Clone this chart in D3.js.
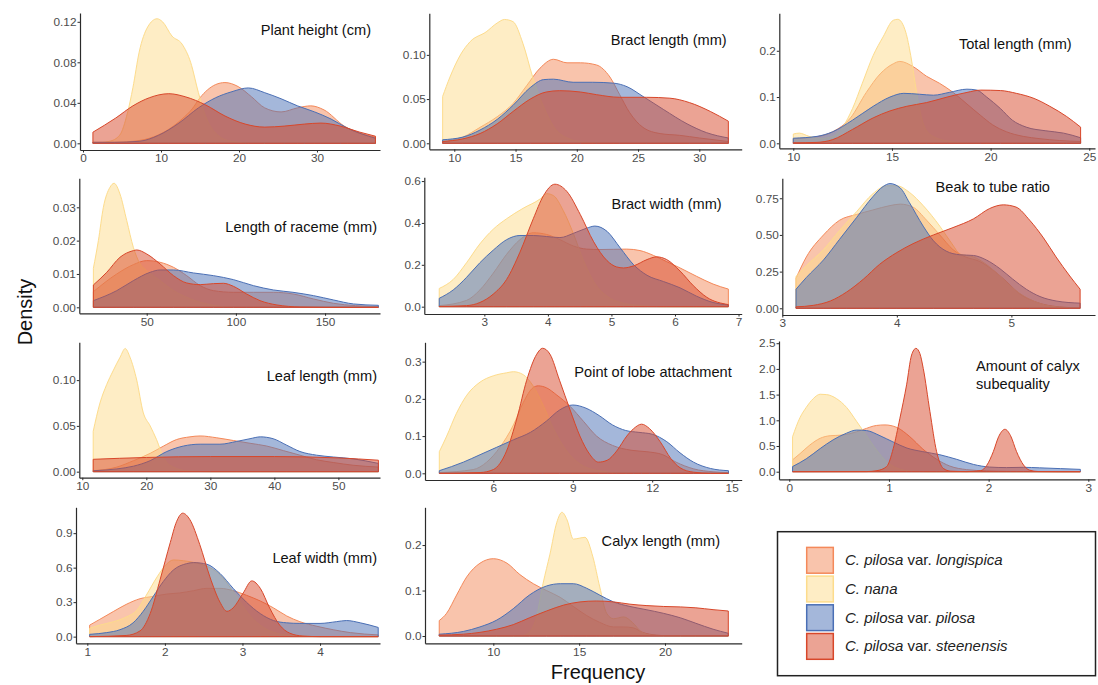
<!DOCTYPE html>
<html>
<head>
<meta charset="utf-8">
<script src="https://cdn.jsdelivr.net/npm/d3@7"></script>
<style>
  body { margin: 0; background: #fff; }
  text { font-family: "Liberation Sans", Arial, Helvetica, sans-serif; }
</style>
</head>
<body>
<svg id="chart" width="1098" height="685"></svg>
<script>
// ---- taxa, drawing order follows legend order ----
const taxa = ["longispica", "nana", "pilosa", "steenensis"];
const taxaColors = ["#f4895a", "#fddc8c", "#4a6fb5", "#d8472a"];
const legendLabels = [
  ["C. pilosa", " var. ", "longispica"],
  ["C. nana", "", ""],
  ["C. pilosa", " var. ", "pilosa"],
  ["C. pilosa", " var. ", "steenensis"]
];

// ---- density estimates, [value, density] ----
const plantHeightLongispica = [[1.27,0.001],[4,0.001],[6.4,0.002],[8.5,0.005],[10.6,0.012],[12.7,0.024],[14,0.034],[15,0.045],[16,0.053],[17,0.058],[18.2,0.060],[19.9,0.056],[21.6,0.046],[23.3,0.035],[25.4,0.031],[27.5,0.035],[29.2,0.037],[30.9,0.033],[33.5,0.017],[35.5,0.010],[37.5,0.006]];
const plantHeightNana = [[1.27,0],[3.4,0.002],[4.7,0.008],[5.7,0.03],[6.4,0.055],[7.2,0.09],[8.3,0.115],[9.5,0.123],[10.2,0.12],[11.4,0.106],[12.7,0.098],[13.8,0.08],[14.8,0.05],[15.7,0.027],[17,0.01],[19,0.002],[22,0],[37.5,0]];
const plantHeightPilosa = [[1.27,0.001],[4,0.001],[7.2,0.002],[9.7,0.008],[12.3,0.02],[14.8,0.035],[17,0.045],[19.1,0.051],[21.2,0.0547],[23.3,0.050],[25.4,0.044],[27.5,0.037],[29.7,0.031],[31.8,0.024],[33.9,0.015],[37.5,0.005]];
const plantHeightSteenensis = [[1.27,0.011],[4.2,0.025],[6.4,0.037],[8.5,0.045],[11,0.049],[13.1,0.046],[15.7,0.038],[18.2,0.027],[20.8,0.019],[23.3,0.016],[25.8,0.017],[28.4,0.019],[30.5,0.020],[33,0.017],[35.5,0.011],[37.5,0.007]];

const bractLengthLongispica = [[9.05,0.002],[10.7,0.007],[12.1,0.018],[13.5,0.03],[14.8,0.045],[15.9,0.065],[17,0.085],[18.1,0.095],[19.2,0.091],[20.3,0.091],[21.6,0.0886],[22.7,0.075],[23.5,0.055],[24.3,0.035],[25.4,0.018],[26.8,0.011],[28.4,0.009],[30,0.006],[32.37,0.002]];
const bractLengthNana = [[9.05,0.053],[9.65,0.075],[10.5,0.10],[11.3,0.115],[12.6,0.126],[13.5,0.136],[14.1,0.140],[14.8,0.1375],[15.6,0.113],[16.4,0.075],[17.3,0.041],[18.1,0.019],[19.2,0.006],[20.8,0.001],[23,0],[32.37,0]];
const bractLengthPilosa = [[9.05,0.004],[10.7,0.007],[12.1,0.015],[13.5,0.027],[14.8,0.043],[16.2,0.063],[17.3,0.072],[18.1,0.0725],[19.7,0.069],[21.3,0.069],[23,0.068],[24.1,0.064],[25.4,0.053],[27.1,0.038],[29,0.022],[30.6,0.012],[32.37,0.006]];
const bractLengthSteenensis = [[9.05,0.002],[10.7,0.005],[12.1,0.011],[13.5,0.022],[14.8,0.036],[16.2,0.050],[17.5,0.058],[18.6,0.0595],[20.3,0.058],[21.6,0.055],[23.5,0.052],[25.7,0.052],[27.6,0.051],[29.2,0.046],[30.9,0.036],[32.37,0.025]];

const totalLengthLongispica = [[10,0.01],[11,0.013],[12,0.025],[12.9,0.055],[13.7,0.11],[14.4,0.15],[15.07,0.172],[15.4,0.177],[16.1,0.165],[16.75,0.145],[17.4,0.13],[18.1,0.11],[18.8,0.085],[19.5,0.06],[20.1,0.04],[20.8,0.025],[21.65,0.015],[22.5,0.01],[23.5,0.006],[24.56,0.004]];
const totalLengthNana = [[10,0.02],[10.3,0.022],[10.8,0.015],[11.35,0.01],[12,0.015],[12.5,0.035],[13,0.075],[13.5,0.13],[14.05,0.19],[14.55,0.23],[15.07,0.266],[15.3,0.268],[15.7,0.24],[15.95,0.19],[16.25,0.11],[16.5,0.055],[16.9,0.02],[17.8,0.005],[19,0],[24.56,0]];
const totalLengthPilosa = [[10,0.011],[11.2,0.015],[12,0.025],[13,0.05],[14.05,0.08],[14.9,0.1],[15.6,0.108],[16.4,0.106],[17.1,0.104],[17.9,0.11],[18.8,0.117],[19.3,0.115],[19.8,0.10],[20.5,0.075],[21.1,0.05],[21.8,0.035],[22.8,0.027],[23.7,0.022],[24.56,0.012]];
const totalLengthSteenensis = [[10,0.001],[11.2,0.002],[12,0.008],[13,0.03],[14.05,0.055],[14.9,0.07],[15.75,0.08],[16.75,0.088],[17.8,0.1],[18.8,0.11],[19.5,0.115],[20.5,0.114],[21.3,0.108],[22.2,0.097],[23,0.08],[23.85,0.058],[24.56,0.035]];

const racemeLongispica = [[20.1,0.0047],[33.2,0.010],[42.5,0.0128],[50,0.014],[57.5,0.0135],[65,0.012],[72.4,0.0095],[80,0.0065],[87.4,0.005],[98.6,0.0045],[109.8,0.0045],[121,0.0045],[132,0.004],[143.5,0.0025],[154.7,0.0012],[167,0.0005],[179.9,0.0002]];
const racemeNana = [[20.1,0.0117],[22.9,0.02],[25.7,0.03],[29.4,0.036],[31.7,0.0372],[35,0.034],[38.8,0.026],[42.5,0.018],[46.3,0.013],[50,0.011],[57.5,0.008],[65,0.005],[72.4,0.003],[83.6,0.001],[100,0],[179.9,0]];
const racemePilosa = [[20.1,0.002],[33.2,0.005],[42.5,0.008],[51.9,0.0105],[57.5,0.0112],[65,0.0112],[76.2,0.0103],[87.4,0.0095],[98.6,0.0083],[109.8,0.0065],[121,0.0052],[132,0.0045],[143.5,0.0035],[154.7,0.0022],[166,0.001],[179.9,0.0006]];
const racemeSteenensis = [[20.1,0.0067],[27.6,0.0105],[35,0.015],[42.5,0.017],[44.4,0.0172],[50,0.016],[57.5,0.013],[65,0.0095],[72.4,0.0073],[80,0.0068],[87.4,0.0071],[93,0.0072],[98.6,0.0063],[106,0.004],[113.5,0.002],[123,0.0007],[136,0.0001],[150,0],[179.9,0]];

const bractWidthLongispica = [[2.29,0.005],[2.72,0.03],[2.93,0.08],[3.14,0.16],[3.35,0.25],[3.56,0.32],[3.77,0.353],[3.98,0.345],[4.19,0.32],[4.4,0.29],[4.61,0.275],[4.82,0.273],[5.03,0.274],[5.24,0.275],[5.45,0.268],[5.66,0.245],[5.87,0.215],[6.08,0.185],[6.34,0.145],[6.6,0.108],[6.84,0.084]];
const bractWidthNana = [[2.29,0.087],[2.51,0.13],[2.72,0.21],[2.93,0.30],[3.14,0.37],[3.35,0.42],[3.61,0.47],[3.88,0.515],[3.98,0.54],[4.09,0.53],[4.24,0.46],[4.4,0.35],[4.56,0.22],[4.72,0.12],[4.93,0.05],[5.14,0.02],[5.45,0.005],[5.8,0],[6.84,0]];
const bractWidthPilosa = [[2.29,0.04],[2.51,0.08],[2.72,0.14],[2.93,0.21],[3.14,0.27],[3.35,0.32],[3.56,0.34],[3.77,0.34],[3.98,0.335],[4.19,0.33],[4.4,0.35],[4.61,0.375],[4.74,0.385],[4.93,0.36],[5.14,0.28],[5.35,0.2],[5.56,0.15],[5.82,0.12],[6.08,0.09],[6.34,0.05],[6.6,0.02],[6.84,0.008]];
const bractWidthSteenensis = [[2.29,0.001],[2.72,0.005],[2.93,0.02],[3.14,0.06],[3.35,0.13],[3.56,0.26],[3.77,0.42],[3.93,0.53],[4.11,0.585],[4.3,0.55],[4.51,0.44],[4.72,0.31],[4.93,0.22],[5.08,0.19],[5.19,0.185],[5.35,0.195],[5.56,0.225],[5.71,0.238],[5.87,0.225],[6.08,0.17],[6.29,0.1],[6.5,0.045],[6.84,0.01]];

const beakRatioLongispica = [[3.12,0.205],[3.21,0.35],[3.36,0.5],[3.5,0.6],[3.65,0.64],[3.79,0.67],[3.94,0.7],[4.03,0.71],[4.14,0.69],[4.26,0.6],[4.375,0.5],[4.49,0.4],[4.6,0.35],[4.72,0.32],[4.84,0.26],[4.96,0.18],[5.07,0.1],[5.19,0.05],[5.36,0.015],[5.6,0.002]];
const beakRatioNana = [[3.12,0.216],[3.21,0.29],[3.36,0.4],[3.5,0.53],[3.65,0.66],[3.79,0.78],[3.91,0.835],[4.0,0.835],[4.11,0.79],[4.23,0.7],[4.375,0.56],[4.49,0.43],[4.55,0.37],[4.67,0.35],[4.78,0.3],[4.9,0.22],[5.04,0.12],[5.19,0.05],[5.39,0.01],[5.6,0.001]];
const beakRatioPilosa = [[3.12,0.13],[3.21,0.21],[3.36,0.33],[3.5,0.47],[3.65,0.62],[3.79,0.76],[3.88,0.83],[3.94,0.85],[4.03,0.82],[4.11,0.72],[4.23,0.56],[4.32,0.46],[4.43,0.39],[4.55,0.365],[4.67,0.36],[4.78,0.33],[4.9,0.27],[5.01,0.2],[5.13,0.13],[5.25,0.08],[5.39,0.05],[5.6,0.035]];
const beakRatioSteenensis = [[3.12,0.01],[3.27,0.02],[3.42,0.05],[3.56,0.11],[3.71,0.2],[3.85,0.3],[4.0,0.38],[4.14,0.44],[4.32,0.5],[4.49,0.55],[4.67,0.61],[4.81,0.68],[4.93,0.705],[5.04,0.69],[5.16,0.6],[5.28,0.48],[5.39,0.35],[5.51,0.22],[5.6,0.13]];

const leafLengthLongispica = [[11.7,0.001],[15.4,0.005],[18,0.012],[20.6,0.02],[22.7,0.028],[24.7,0.035],[26.8,0.038],[28.4,0.039],[31,0.037],[33.6,0.034],[36.2,0.031],[38.8,0.028],[41.4,0.023],[44,0.018],[46.6,0.013],[49.2,0.01],[52.3,0.007],[56.25,0.005]];
const leafLengthNana = [[11.7,0.044],[12.76,0.075],[13.8,0.095],[14.8,0.11],[15.9,0.125],[16.7,0.1345],[17.45,0.125],[18.5,0.1],[19.5,0.065],[20.6,0.05],[21.6,0.035],[22.7,0.015],[24.2,0.005],[26.3,0.001],[30,0],[56.25,0]];
const leafLengthPilosa = [[11.7,0.001],[15.4,0.003],[18,0.006],[20.6,0.012],[23.2,0.022],[25.8,0.028],[28.4,0.030],[31.5,0.030],[34.1,0.033],[36.2,0.036],[37.8,0.038],[39.8,0.036],[41.9,0.029],[44,0.022],[46.6,0.018],[49.2,0.016],[52.3,0.014],[56.25,0.009]];
const leafLengthSteenensis = [[11.7,0.0135],[20,0.0155],[30,0.0165],[40,0.0165],[50,0.015],[56.25,0.0125]];

const lobeLongispica = [[3.96,0.002],[5.24,0.01],[5.75,0.03],[6.25,0.07],[6.76,0.13],[7.13,0.19],[7.5,0.23],[7.7,0.235],[8.0,0.23],[8.4,0.21],[8.9,0.18],[9.4,0.14],[9.9,0.1],[10.5,0.075],[11.2,0.062],[11.8,0.058],[12.4,0.05],[12.9,0.03],[13.56,0.012],[14.3,0.004],[14.88,0.002]];
const lobeNana = [[3.96,0.058],[4.24,0.1],[4.6,0.16],[5.0,0.21],[5.5,0.245],[6.0,0.262],[6.5,0.27],[6.76,0.273],[7.13,0.265],[7.5,0.235],[7.9,0.18],[8.27,0.12],[8.77,0.06],[9.27,0.025],[9.9,0.008],[10.8,0.001],[12,0],[14.88,0]];
const lobePilosa = [[3.96,0.007],[4.87,0.03],[5.5,0.05],[6.13,0.07],[6.76,0.09],[7.4,0.11],[8.0,0.14],[8.5,0.17],[9.0,0.1835],[9.5,0.175],[10.0,0.155],[10.5,0.13],[11.0,0.115],[11.5,0.11],[12.0,0.105],[12.55,0.085],[13.05,0.055],[13.56,0.03],[14.2,0.013],[14.88,0.007]];
const lobeSteenensis = [[3.96,0],[5.5,0.002],[6.0,0.01],[6.5,0.06],[6.9,0.15],[7.26,0.25],[7.64,0.32],[7.86,0.336],[8.14,0.32],[8.5,0.25],[8.9,0.17],[9.27,0.1],[9.65,0.05],[9.97,0.03],[10.3,0.035],[10.66,0.06],[11.04,0.1],[11.3,0.12],[11.6,0.132],[11.9,0.12],[12.3,0.085],[12.7,0.04],[13.05,0.015],[13.56,0.003],[14.2,0],[14.88,0]];

const subequalityLongispica = [[0.033,0.23],[0.107,0.35],[0.207,0.52],[0.31,0.65],[0.41,0.7],[0.51,0.71],[0.61,0.74],[0.74,0.82],[0.876,0.9],[0.96,0.91],[1.08,0.86],[1.21,0.68],[1.34,0.44],[1.48,0.24],[1.61,0.11],[1.78,0.04],[1.98,0.015],[2.18,0.006],[2.5,0.002],[2.92,0.001]];
const subequalityNana = [[0.033,0.68],[0.107,1.05],[0.17,1.25],[0.24,1.42],[0.31,1.507],[0.375,1.5],[0.475,1.42],[0.575,1.25],[0.675,0.98],[0.776,0.7],[0.876,0.42],[0.976,0.2],[1.08,0.07],[1.21,0.015],[1.4,0],[2.92,0]];
const subequalityPilosa = [[0.033,0.1],[0.17,0.25],[0.31,0.45],[0.44,0.62],[0.575,0.75],[0.675,0.81],[0.776,0.8],[0.91,0.7],[1.04,0.58],[1.18,0.46],[1.34,0.39],[1.51,0.33],[1.68,0.24],[1.85,0.14],[2.01,0.09],[2.18,0.08],[2.35,0.085],[2.51,0.075],[2.72,0.06],[2.92,0.045]];
const subequalitySteenensis = [[0.033,0],[0.776,0.002],[0.88,0.02],[0.977,0.1],[1.043,0.45],[1.11,1.04],[1.177,1.69],[1.227,2.27],[1.271,2.40],[1.31,2.3],[1.344,2.01],[1.411,1.17],[1.478,0.39],[1.545,0.065],[1.62,0.01],[1.78,0.002],[1.92,0.02],[1.98,0.12],[2.047,0.39],[2.1,0.68],[2.164,0.825],[2.22,0.7],[2.28,0.39],[2.35,0.13],[2.41,0.03],[2.5,0.003],[2.7,0],[2.92,0]];

const leafWidthLongispica = [[1.03,0.1],[1.16,0.15],[1.34,0.22],[1.5,0.28],[1.68,0.33],[1.85,0.35],[2.02,0.37],[2.19,0.38],[2.37,0.40],[2.54,0.42],[2.71,0.42],[2.88,0.4],[3.05,0.36],[3.23,0.31],[3.4,0.25],[3.57,0.18],[3.74,0.13],[3.96,0.09],[4.17,0.06],[4.39,0.035],[4.75,0.015]];
const leafWidthNana = [[1.03,0.073],[1.16,0.1],[1.34,0.13],[1.5,0.17],[1.64,0.23],[1.76,0.36],[1.9,0.52],[2.02,0.63],[2.11,0.667],[2.24,0.66],[2.41,0.64],[2.58,0.6],[2.71,0.54],[2.84,0.43],[2.97,0.3],[3.1,0.18],[3.27,0.08],[3.44,0.03],[3.66,0.008],[3.96,0.001],[4.3,0],[4.75,0]];
const leafWidthPilosa = [[1.03,0.02],[1.25,0.035],[1.42,0.06],[1.59,0.12],[1.72,0.22],[1.85,0.35],[1.98,0.48],[2.11,0.58],[2.28,0.635],[2.37,0.644],[2.54,0.63],[2.71,0.55],[2.88,0.42],[3.05,0.3],[3.23,0.2],[3.4,0.14],[3.57,0.12],[3.74,0.115],[4.0,0.115],[4.21,0.13],[4.34,0.14],[4.52,0.12],[4.75,0.08]];
const leafWidthSteenensis = [[1.03,0],[1.5,0.01],[1.68,0.05],[1.81,0.2],[1.94,0.5],[2.07,0.82],[2.15,1.0],[2.23,1.074],[2.32,1.02],[2.45,0.8],[2.58,0.52],[2.71,0.3],[2.8,0.22],[2.88,0.25],[3.01,0.38],[3.12,0.485],[3.23,0.42],[3.35,0.25],[3.48,0.1],[3.61,0.03],[3.78,0.005],[4.0,0],[4.75,0]];

const calyxLengthLongispica = [[6.85,0.034],[7.28,0.05],[7.86,0.09],[8.45,0.13],[9.22,0.16],[10.0,0.17],[10.8,0.16],[11.55,0.135],[12.33,0.115],[13.1,0.1],[13.9,0.085],[14.66,0.065],[15.44,0.045],[16.2,0.03],[17.0,0.02],[17.57,0.02],[18.15,0.018],[18.7,0.008],[19.5,0.002],[20.5,0],[23.69,0]];
const calyxLengthNana = [[6.85,0],[11.5,0],[12.0,0.005],[12.5,0.04],[12.9,0.116],[13.3,0.18],[13.7,0.25],[14.0,0.272],[14.3,0.255],[14.66,0.213],[15.0,0.215],[15.34,0.217],[15.8,0.174],[16.2,0.108],[16.6,0.05],[17.0,0.038],[17.6,0.042],[18.1,0.03],[18.6,0.01],[19.2,0.002],[20,0],[23.69,0]];
const calyxLengthPilosa = [[6.85,0.004],[8.25,0.01],[9.22,0.02],[10.2,0.035],[11.16,0.06],[12.1,0.09],[13.1,0.11],[13.9,0.115],[14.66,0.115],[15.44,0.105],[16.2,0.09],[17,0.075],[17.96,0.065],[18.9,0.058],[19.9,0.05],[20.9,0.04],[21.8,0.028],[22.8,0.015],[23.69,0.006]];
const calyxLengthSteenensis = [[6.85,0.002],[8.25,0.004],[9.22,0.008],[10.2,0.015],[11.16,0.025],[12.1,0.04],[13.1,0.055],[14.1,0.068],[15.05,0.075],[16.0,0.077],[17,0.075],[17.96,0.07],[18.9,0.067],[19.9,0.065],[20.9,0.064],[21.8,0.062],[22.8,0.058],[23.69,0.055]];

// ---- tick values per panel ----
const plantHeightTicks = { x: [0, 10, 20, 30], y: [0, 0.04, 0.08, 0.12] };
const bractLengthTicks = { x: [10, 15, 20, 25, 30], y: [0, 0.05, 0.10] };
const totalLengthTicks = { x: [10, 15, 20, 25], y: [0, 0.1, 0.2] };
const racemeTicks = { x: [50, 100, 150], y: [0, 0.01, 0.02, 0.03] };
const bractWidthTicks = { x: [3, 4, 5, 6, 7], y: [0, 0.2, 0.4, 0.6] };
const beakRatioTicks = { x: [3, 4, 5], y: [0, 0.25, 0.5, 0.75] };
const leafLengthTicks = { x: [10, 20, 30, 40, 50], y: [0, 0.05, 0.10] };
const lobeTicks = { x: [6, 9, 12, 15], y: [0, 0.1, 0.2, 0.3] };
const subequalityTicks = { x: [0, 1, 2, 3], y: [0, 0.5, 1.0, 1.5, 2.0, 2.5] };
const leafWidthTicks = { x: [1, 2, 3, 4], y: [0, 0.3, 0.6, 0.9] };
const calyxLengthTicks = { x: [10, 15, 20], y: [0, 0.1, 0.2] };

// ---- panel table: frame = [left, right, top, bottom] in px ----
const panels = [
  { title: ["Plant height (cm)"], titlePos: [371, 35, "end"], frame: [80, 380, 13, 150],
    xDomain: [-0.385, 38.08], yDomain: [-0.0066, 0.1287], ticks: plantHeightTicks, yFormat: ".2f",
    series: [plantHeightLongispica, plantHeightNana, plantHeightPilosa, plantHeightSteenensis] },
  { title: ["Bract length (mm)"], titlePos: [726.7, 45, "end"], frame: [429.3, 741.7, 13.3, 149.3],
    xDomain: [7.96, 33.46], yDomain: [-0.0068, 0.147], ticks: bractLengthTicks, yFormat: ".2f",
    series: [bractLengthLongispica, bractLengthNana, bractLengthPilosa, bractLengthSteenensis] },
  { title: ["Total length (mm)"], titlePos: [1071.7, 49, "end"], frame: [779.3, 1095, 13.3, 148.3],
    xDomain: [9.29, 25.29], yDomain: [-0.0108, 0.281], ticks: totalLengthTicks, yFormat: ".1f",
    series: [totalLengthLongispica, totalLengthNana, totalLengthPilosa, totalLengthSteenensis] },
  { title: ["Length of raceme (mm)"], titlePos: [377, 231.7, "end"], frame: [79.3, 380, 178.3, 313.3],
    xDomain: [12.2, 180.8], yDomain: [-0.0018, 0.0387], ticks: racemeTicks, yFormat: ".2f",
    series: [racemeLongispica, racemeNana, racemePilosa, racemeSteenensis] },
  { title: ["Bract width (mm)"], titlePos: [721.7, 209.3, "end"], frame: [424.3, 741.7, 177.3, 314],
    xDomain: [2.055, 7.05], yDomain: [-0.035, 0.618], ticks: bractWidthTicks, yFormat: ".1f",
    series: [bractWidthLongispica, bractWidthNana, bractWidthPilosa, bractWidthSteenensis] },
  { title: ["Beak to tube ratio"], titlePos: [1050, 191.7, "end"], frame: [782.3, 1095, 178.3, 315],
    xDomain: [3.0, 5.73], yDomain: [-0.0457, 0.886], ticks: beakRatioTicks, yFormat: ".2f",
    series: [beakRatioLongispica, beakRatioNana, beakRatioPilosa, beakRatioSteenensis] },
  { title: ["Leaf length (mm)"], titlePos: [377, 380.7, "end"], frame: [79.3, 380, 342.3, 477.7],
    xDomain: [9.53, 56.5], yDomain: [-0.0066, 0.1413], ticks: leafLengthTicks, yFormat: ".2f",
    series: [leafLengthLongispica, leafLengthNana, leafLengthPilosa, leafLengthSteenensis] },
  { title: ["Point of lobe attachment"], titlePos: [731.7, 376.7, "end"], frame: [425, 741.7, 342.3, 480],
    xDomain: [3.42, 15.38], yDomain: [-0.018, 0.352], ticks: lobeTicks, yFormat: ".1f",
    series: [lobeLongispica, lobeNana, lobePilosa, lobeSteenensis] },
  { title: ["Amount of calyx", "subequality"], titlePos: [976, 370.7, "start"], frame: [779, 1095, 341, 479.3],
    xDomain: [-0.103, 3.067], yDomain: [-0.148, 2.543], ticks: subequalityTicks, yFormat: ".1f",
    series: [subequalityLongispica, subequalityNana, subequalityPilosa, subequalitySteenensis] },
  { title: ["Leaf width (mm)"], titlePos: [377, 563.3, "end"], frame: [76, 380, 507.3, 643.3],
    xDomain: [0.854, 4.773], yDomain: [-0.058, 1.125], ticks: leafWidthTicks, yFormat: ".1f",
    series: [leafWidthLongispica, leafWidthNana, leafWidthPilosa, leafWidthSteenensis] },
  { title: ["Calyx length (mm)"], titlePos: [720, 545.7, "end"], frame: [425, 741.7, 507.3, 643.3],
    xDomain: [6.02, 24.47], yDomain: [-0.016, 0.283], ticks: calyxLengthTicks, yFormat: ".1f",
    series: [calyxLengthLongispica, calyxLengthNana, calyxLengthPilosa, calyxLengthSteenensis] }
];

const svg = d3.select("#chart");

function styleAxis(g) {
  g.select(".domain").attr("stroke", "#2b2b2b").attr("stroke-width", 1.2);
  g.selectAll(".tick line").attr("stroke", "#2b2b2b").attr("stroke-width", 1);
  g.selectAll(".tick text").attr("fill", "#4d4d4d").attr("font-size", 11.8)
    .attr("font-family", "\"Liberation Sans\", Arial, sans-serif");
}

panels.forEach(p => {
  const [l, r, t, b] = p.frame;
  const x = d3.scaleLinear().domain(p.xDomain).range([l, r]);
  const y = d3.scaleLinear().domain(p.yDomain).range([b, t]);
  const g = svg.append("g").attr("class", "panel");

  const area = d3.area()
    .x(d => x(d[0]))
    .y0(y(0))
    .y1(d => y(d[1]))
    .curve(d3.curveMonotoneX);

  g.selectAll("path.density")
    .data(p.series)
    .join("path")
    .attr("class", "density")
    .attr("d", d => area(d))
    .attr("fill", (d, i) => taxaColors[i])
    .attr("fill-opacity", 0.5)
    .attr("stroke", (d, i) => taxaColors[i])
    .attr("stroke-width", 1)
    .attr("stroke-linejoin", "round");

  g.append("g")
    .attr("transform", `translate(0,${b})`)
    .call(d3.axisBottom(x).tickValues(p.ticks.x).tickFormat(d3.format("d"))
      .tickSize(2.5).tickSizeOuter(0).tickPadding(1.5))
    .call(styleAxis);

  g.append("g")
    .attr("transform", `translate(${l},0)`)
    .call(d3.axisLeft(y).tickValues(p.ticks.y).tickFormat(d3.format(p.yFormat))
      .tickSize(2.5).tickSizeOuter(0).tickPadding(1))
    .call(styleAxis);

  const [tx, ty, anchor] = p.titlePos;
  p.title.forEach((line, i) => {
    g.append("text")
      .attr("x", tx).attr("y", ty + i * 18.3)
      .attr("text-anchor", anchor)
      .attr("font-size", 14.6)
      .attr("fill", "#111")
      .text(line);
  });
});

// ---- shared axis titles ----
svg.append("text")
  .attr("transform", "translate(32,312) rotate(-90)")
  .attr("text-anchor", "middle")
  .attr("font-size", 20)
  .attr("fill", "#111")
  .text("Density");

svg.append("text")
  .attr("x", 598).attr("y", 679)
  .attr("text-anchor", "middle")
  .attr("font-size", 20)
  .attr("fill", "#111")
  .text("Frequency");

// ---- legend ----
const legend = svg.append("g").attr("class", "legend");
legend.append("rect")
  .attr("x", 777.5).attr("y", 531.7).attr("width", 318).attr("height", 144)
  .attr("fill", "none").attr("stroke", "#222").attr("stroke-width", 1.5);

const rows = legend.selectAll("g.row")
  .data(taxa)
  .join("g")
  .attr("class", "row")
  .attr("transform", (d, i) => `translate(806,${546.7 + i * 28.7})`);

rows.append("rect")
  .attr("x", 0.7).attr("y", 0.7).attr("width", 26.6).attr("height", 25.8)
  .attr("fill", (d, i) => taxaColors[i]).attr("fill-opacity", 0.5)
  .attr("stroke", (d, i) => taxaColors[i]).attr("stroke-width", 1.5);

rows.each(function(d, i) {
  const parts = legendLabels[i];
  const txt = d3.select(this).append("text")
    .attr("x", 39).attr("y", 18.5)
    .attr("font-size", 15).attr("fill", "#222");
  txt.append("tspan").attr("font-style", "italic").text(parts[0]);
  if (parts[1]) txt.append("tspan").text(parts[1]);
  if (parts[2]) txt.append("tspan").attr("font-style", "italic").text(parts[2]);
});
</script>
</body>
</html>
